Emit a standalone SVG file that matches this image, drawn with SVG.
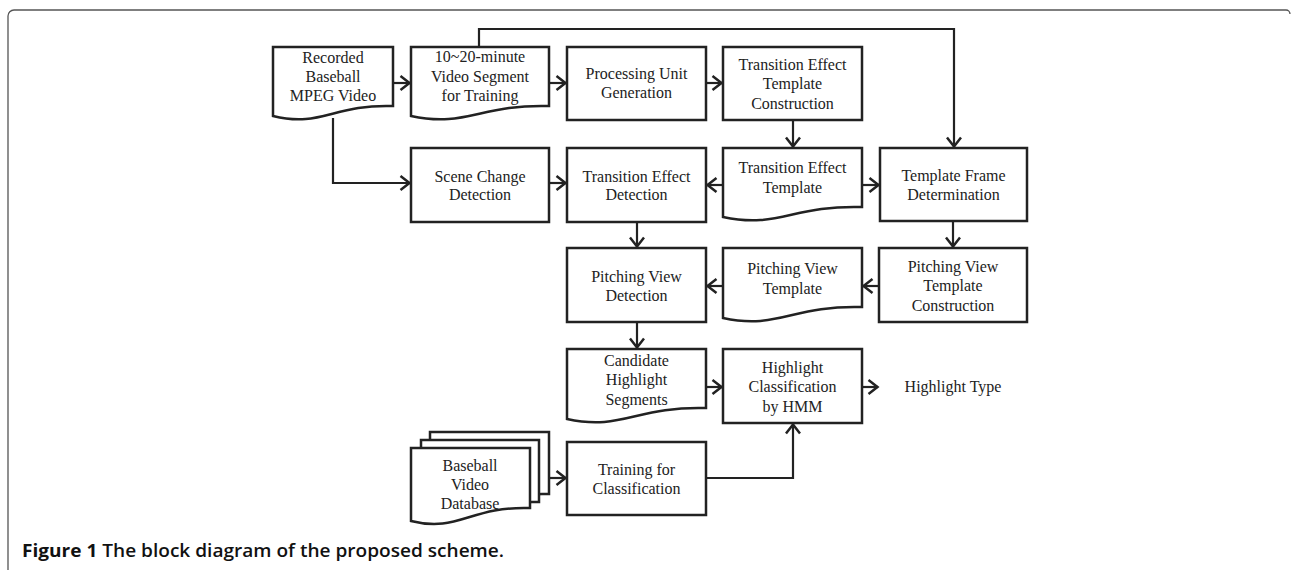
<svg xmlns="http://www.w3.org/2000/svg" width="1292" height="570" viewBox="0 0 1292 570">
<style>
.b{fill:#fff;stroke:#222;stroke-width:2.5}
.c{fill:none;stroke:#222;stroke-width:2.2}
.t{font-family:"Liberation Serif","Times New Roman",serif;font-size:16px;fill:#222;text-anchor:middle}
.cap{font-family:"Open Sans","Noto Sans",sans-serif;font-size:18px;font-weight:bold;fill:#111}
</style>
<defs>
<marker id="ah" markerUnits="userSpaceOnUse" markerWidth="14" markerHeight="18" viewBox="0 0 14 18" refX="11.5" refY="9" orient="auto">
<path d="M2,2 L11,9 L2,16" fill="none" stroke="#222" stroke-width="2.5"/>
</marker>
</defs>
<rect width="1292" height="570" fill="#fff"/>
<path d="M8,570 V16 A6,6 0 0 1 14,10 H1286 A4,4 0 0 1 1290,14" fill="none" stroke="#555" stroke-width="1.3"/>

<g id="connectors" class="c">
<path d="M393,83 H410" marker-end="url(#ah)"/>
<path d="M549,83 H566" marker-end="url(#ah)"/>
<path d="M706,83 H722" marker-end="url(#ah)"/>
<path d="M479,47 V29 H954 V147" marker-end="url(#ah)"/>
<path d="M333,118 V183 H410" marker-end="url(#ah)"/>
<path d="M549,183 H566" marker-end="url(#ah)"/>
<path d="M793,120 V147" marker-end="url(#ah)"/>
<path d="M723,185 H707" marker-end="url(#ah)"/>
<path d="M862,185 H879" marker-end="url(#ah)"/>
<path d="M637,222 V247" marker-end="url(#ah)"/>
<path d="M953,221 V247" marker-end="url(#ah)"/>
<path d="M879,286 H863" marker-end="url(#ah)"/>
<path d="M723,286 H707" marker-end="url(#ah)"/>
<path d="M637,322 V348" marker-end="url(#ah)"/>
<path d="M706,387 H722" marker-end="url(#ah)"/>
<path d="M862,387 H878" marker-end="url(#ah)"/>
<path d="M549,478 H566" marker-end="url(#ah)"/>
<path d="M706,478 H793 V424" marker-end="url(#ah)"/>
</g>

<g id="recorded">
<path class="b" d="M273,47 H393 V106 C333,104 321,128 273,116 Z"/>
<text class="t" x="333" y="63">Recorded</text>
<text class="t" x="333" y="82">Baseball</text>
<text class="t" x="333" y="101">MPEG Video</text>
</g>
<g id="segment">
<path class="b" d="M411,47 H549 V106 C480,104 466,128 411,116 Z"/>
<text class="t" x="480" y="62">10~20-minute</text>
<text class="t" x="480" y="82">Video Segment</text>
<text class="t" x="480" y="101">for Training</text>
</g>
<g id="pug">
<rect class="b" x="567" y="47" width="139" height="73"/>
<text class="t" x="636.5" y="79">Processing Unit</text>
<text class="t" x="636.5" y="98">Generation</text>
</g>
<g id="tetc">
<rect class="b" x="723" y="47" width="139" height="73"/>
<text class="t" x="792.5" y="70">Transition Effect</text>
<text class="t" x="792.5" y="89">Template</text>
<text class="t" x="792.5" y="109">Construction</text>
</g>
<g id="scd">
<rect class="b" x="411" y="148" width="138" height="74"/>
<text class="t" x="480" y="182">Scene Change</text>
<text class="t" x="480" y="200">Detection</text>
</g>
<g id="ted">
<rect class="b" x="567" y="148" width="139" height="74"/>
<text class="t" x="636.5" y="182">Transition Effect</text>
<text class="t" x="636.5" y="200">Detection</text>
</g>
<g id="tet">
<path class="b" d="M723,148 H862 V207 C792,205 778,229 723,217 Z"/>
<text class="t" x="792.5" y="173">Transition Effect</text>
<text class="t" x="792.5" y="193">Template</text>
</g>
<g id="tfd">
<rect class="b" x="880" y="148" width="147" height="73"/>
<text class="t" x="953.5" y="181">Template Frame</text>
<text class="t" x="953.5" y="200">Determination</text>
</g>
<g id="pvd">
<rect class="b" x="567" y="248" width="139" height="74"/>
<text class="t" x="636.5" y="282">Pitching View</text>
<text class="t" x="636.5" y="301">Detection</text>
</g>
<g id="pvt">
<path class="b" d="M723,248 H862 V307 C792,305 778,330 723,318 Z"/>
<text class="t" x="792.5" y="274">Pitching View</text>
<text class="t" x="792.5" y="294">Template</text>
</g>
<g id="pvtc">
<rect class="b" x="879" y="248" width="148" height="74"/>
<text class="t" x="953" y="272">Pitching View</text>
<text class="t" x="953" y="291">Template</text>
<text class="t" x="953" y="311">Construction</text>
</g>
<g id="chs">
<path class="b" d="M567,349 H706 V408 C636,406 622,431 567,419 Z"/>
<text class="t" x="636.5" y="366">Candidate</text>
<text class="t" x="636.5" y="385">Highlight</text>
<text class="t" x="636.5" y="405">Segments</text>
</g>
<g id="hch">
<rect class="b" x="723" y="349" width="139" height="74"/>
<text class="t" x="792.5" y="373">Highlight</text>
<text class="t" x="792.5" y="392">Classification</text>
<text class="t" x="792.5" y="412">by HMM</text>
</g>
<g id="htype">
<text class="t" x="953" y="392">Highlight Type</text>
</g>
<g id="database">
<path class="b" d="M430,432 H549 V494 C489,492 477,516 430,504 Z"/>
<path class="b" d="M421,440 H539 V502 C479,500 467,524 421,512 Z"/>
<path class="b" d="M411,448 H530 V508 C470,506 458,533 411,521 Z"/>
<text class="t" x="470" y="471">Baseball</text>
<text class="t" x="470" y="490">Video</text>
<text class="t" x="470" y="509">Database</text>
</g>
<g id="training">
<rect class="b" x="567" y="442" width="139" height="73"/>
<text class="t" x="636.5" y="475">Training for</text>
<text class="t" x="636.5" y="494">Classification</text>
</g>
<text class="cap" x="22" y="557" textLength="482" lengthAdjust="spacingAndGlyphs">Figure 1 <tspan font-weight="600">The block diagram of the proposed scheme.</tspan></text>
</svg>
